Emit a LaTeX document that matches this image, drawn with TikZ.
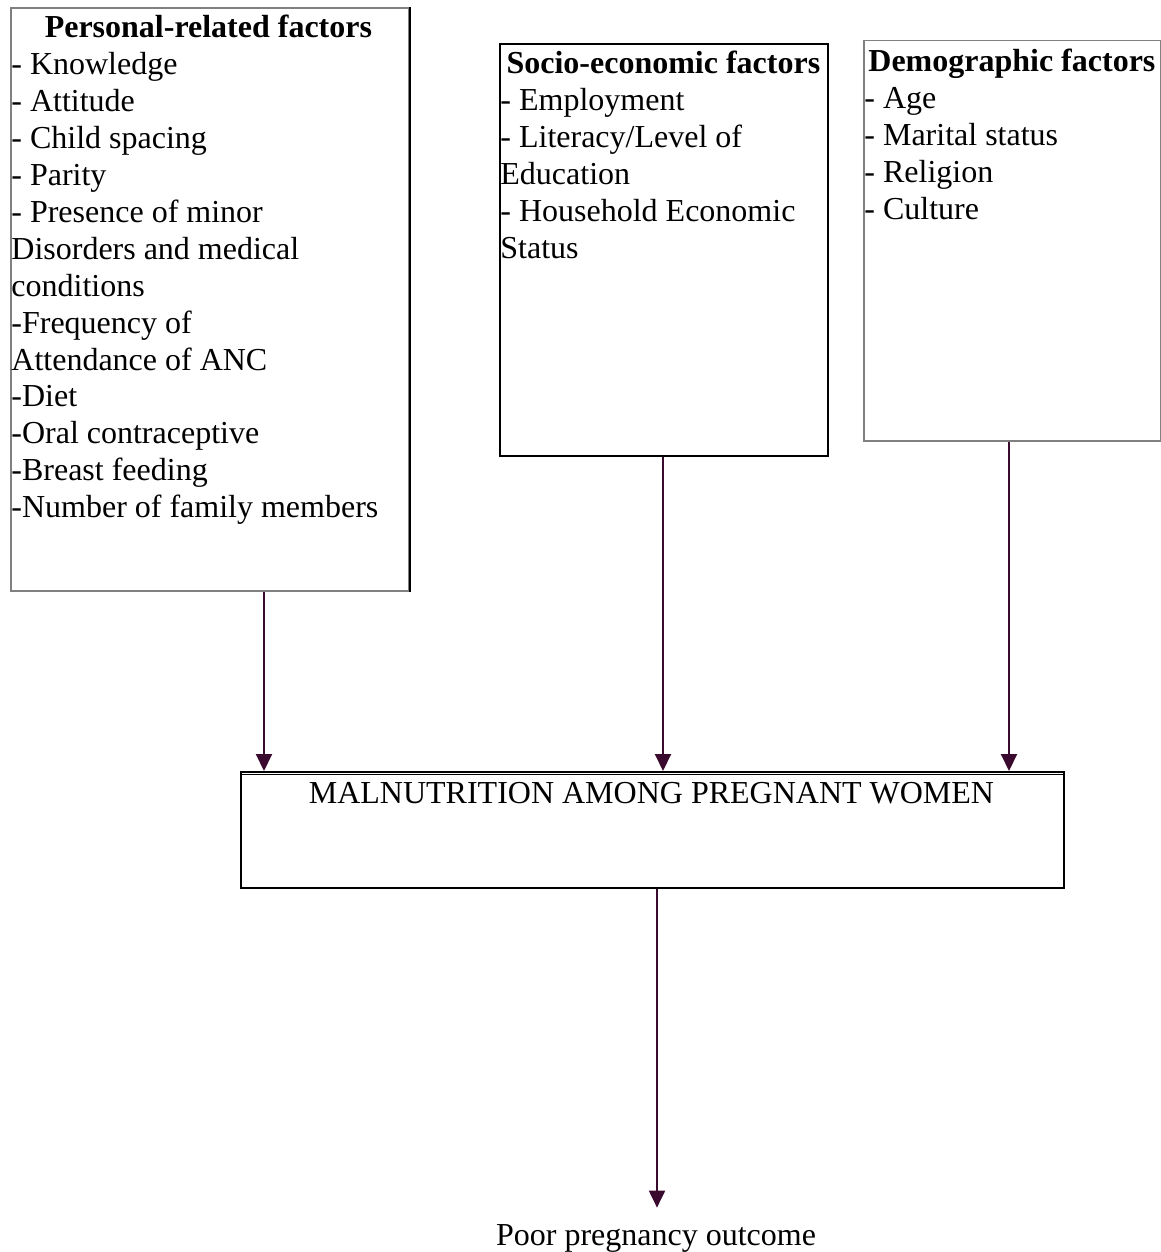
\documentclass[tikz,border=0pt]{standalone}
\usepackage{fontspec}
\setmainfont{Liberation Serif}
\usetikzlibrary{arrows.meta}
\definecolor{arrowc}{HTML}{3A0A2E}
\definecolor{grayb}{HTML}{808080}
\newcommand{\natsp}{\spaceskip=0pt\xspaceskip=0pt\relax}
\begin{document}
\begin{tikzpicture}[x=0.5pt,y=-0.5pt,
  box/.style={draw, line width=1pt, inner sep=0pt, anchor=north west},
  txt/.style={anchor=base west, inner sep=0pt, align=left,
    font=\fontsize{16}{18.45}\selectfont},
  arr/.style={draw=arrowc, line width=1pt, -{Triangle[width=8pt,length=8.5pt]}}]
\useasboundingbox (0,0) rectangle (1161,1252);

% factor boxes
\node[box, draw=grayb, minimum width=199pt, minimum height=291.5pt] (b1) at (10,7) {};
\draw[line width=1pt] (b1.north east) -- (b1.south east);
\node[box, minimum width=164pt, minimum height=206pt] (b2) at (499,43) {};
\node[box, draw=grayb, line width=0.75pt, minimum width=148.5pt, minimum height=200pt] (b3) at (863,40) {};

\node[txt, text width=197pt] (t1) at (11,38) {\natsp
\makebox[\linewidth][c]{\bfseries Personal-related factors}\\
- Knowledge\\
- Attitude\\
- Child spacing\\
- Parity\\
- Presence of minor\\
Disorders and medical\\
conditions\\
-Frequency of\\
Attendance of ANC\\
-Diet\\
-Oral contraceptive\\
-Breast feeding\\
-Number of family members};

\node[txt, text width=163pt] (t2) at (500,74) {\natsp
\makebox[\linewidth][c]{\bfseries Socio-economic factors}\\
- Employment\\
- Literacy/Level of\\
Education\\
- Household Economic\\
Status};

\node[txt, text width=147.5pt] (t3) at (864,72) {\natsp
\makebox[\linewidth][c]{\bfseries Demographic factors}\\
- Age\\
- Marital status\\
- Religion\\
- Culture};

% main box
\node[box, line width=0.75pt, minimum width=411.5pt, minimum height=58pt] (main) at (240,771) {};
\draw[line width=0.6pt] ([yshift=-1.6pt]main.north west) -- ([yshift=-1.6pt]main.north east);
\node[anchor=base, inner sep=0pt, font=\fontsize{16}{18.45}\selectfont] (mt) at (651.5,803)
  {MALNUTRITION AMONG PREGNANT WOMEN};

% outcome
\node[anchor=base, inner sep=0pt, font=\fontsize{16}{18.45}\selectfont] (out) at (656,1245)
  {Poor pregnancy outcome};

% arrows
\coordinate (c1) at (264,0);
\coordinate (c2) at (663,0);
\coordinate (c3) at (1009,0);
\coordinate (c4) at (657,0);
\draw[arr] (b1.south -| c1) -- (main.north -| c1);
\draw[arr] (b2.south -| c2) -- (main.north -| c2);
\draw[arr] (b3.south -| c3) -- (main.north -| c3);
\draw[arr] (main.south -| c4) -- ([yshift=8pt]out.north -| c4);
\end{tikzpicture}
\end{document}
